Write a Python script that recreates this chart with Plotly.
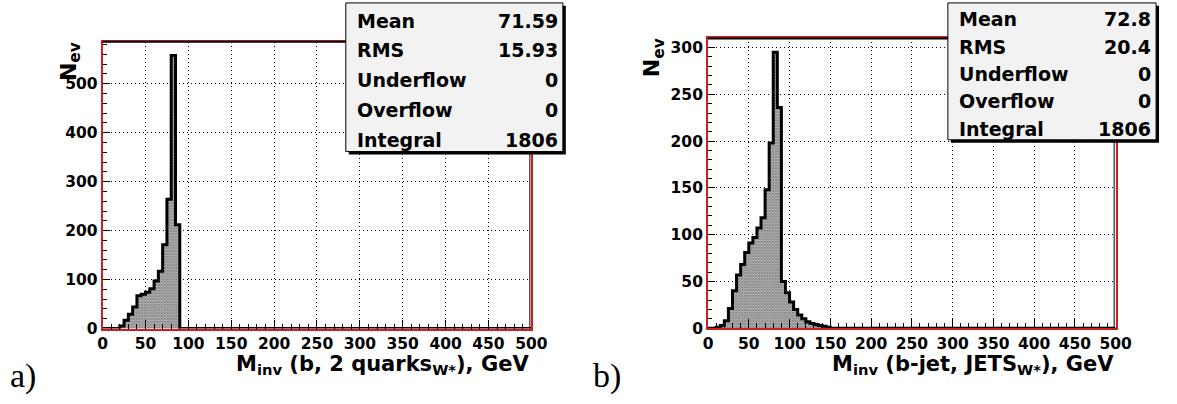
import plotly.graph_objects as go

# ---------------- data ----------------
bin_width = 5
x_min, x_max = 0, 500

# panel a) : M_inv (b, 2 quarks_W*)
a_first_edge = 20
a_counts = [5, 17, 29, 44, 67, 70, 74, 81, 97, 117, 171, 264, 558, 212]

# panel b) : M_inv (b-jet, JETS_W*)
b_first_edge = 10
b_counts = [1, 3, 8, 21, 40, 57, 68, 81, 91, 97, 107, 118, 148, 198, 295, 236,
            50, 38, 28, 20, 14, 10, 7, 5, 4, 3, 2, 1]

stat_names = ["Mean", "RMS", "Underflow", "Overflow", "Integral"]
a_stats = ["71.59", "15.93", "0", "0", "1806"]
b_stats = ["72.8", "20.4", "0", "0", "1806"]

x_ticks = [0, 50, 100, 150, 200, 250, 300, 350, 400, 450, 500]
a_y_ticks = [0, 100, 200, 300, 400, 500]
b_y_ticks = [0, 50, 100, 150, 200, 250, 300]

a_xtitle = "M<sub>inv</sub> (b, 2 quarks<sub>W*</sub>), GeV"
b_xtitle = "M<sub>inv</sub> (b-jet, JETS<sub>W*</sub>), GeV"
ytitle = "N<sub>ev</sub>"
panel_labels = ["a)", "b)"]

# ---------------- layout helpers ----------------
W, H = 1177, 404
def px(x):
    return x / W
def py(y):
    return 1 - y / H

RED = "#cc2020"
FONT = "DejaVu Sans, sans-serif"
tickfont_y = dict(family=FONT, size=15.5, color="black")
tickfont_x = dict(family=FONT, size=15.5, color="black")

def bold(vals):
    return ["<b>%s</b>" % v for v in vals]

fig = go.Figure()
annotations = []
shapes = []

panels = [
    dict(first=a_first_edge, counts=a_counts, yticks=a_y_ticks, yminor=20,
         xl=99.4, xr=535.9, top=42.7, bottom=336.0, xtitle=a_xtitle,
         stats=a_stats, box=(347, 3, 568, 155), label_x=3, ytitle_x=66,
         ax="", lab=panel_labels[0]),
    dict(first=b_first_edge, counts=b_counts, yticks=b_y_ticks, yminor=10,
         xl=715.8, xr=1130.8, top=39.3, bottom=335.7, xtitle=b_xtitle,
         stats=b_stats, box=(960, 3, 1172, 143), label_x=597, ytitle_x=661,
         ax="2", lab=panel_labels[1]),
]

for p in panels:
    n = (x_max - x_min) // bin_width
    full = [0] * n
    start = (p["first"] - x_min) // bin_width
    for i, c in enumerate(p["counts"]):
        full[start + i] = c
    centers = [p["first"] + bin_width * (i + 0.5) for i in range(len(p["counts"]))]
    xref = "x" + p["ax"]
    yref = "y" + p["ax"]
    fig.add_trace(go.Bar(
        x=centers, y=p["counts"], width=bin_width,
        marker=dict(color="white", line=dict(width=0),
                    pattern=dict(shape="x", size=2, solidity=0.8,
                                 fgcolor="black", bgcolor="white")),
        xaxis=xref, yaxis=yref, showlegend=False, hoverinfo="skip"))
    xs = [x_min] + [x_min + i * bin_width for i in range(n)] + [x_max]
    ys = [0] + full + [0]
    fig.add_trace(go.Scatter(
        x=xs, y=ys, mode="lines", line=dict(color="black", width=3, shape="hv"),
        xaxis=xref, yaxis=yref, showlegend=False, hoverinfo="skip"))

    ymax = max(p["counts"]) * 1.05
    xa = dict(domain=[px(p["xl"]), px(p["xr"])], range=[x_min, x_max],
              tickvals=x_ticks, ticktext=bold(x_ticks),
              ticks="inside", ticklen=9, tickcolor="black",
              tickwidth=1, tickfont=tickfont_x,
              showgrid=True, gridcolor="black", gridwidth=1, griddash="1px,3px",
              minor=dict(ticks="inside", ticklen=5, dtick=10, tickcolor="black",
                         showgrid=False),
              showline=True, linecolor=RED, linewidth=2, mirror=True,
              zeroline=False, anchor=yref, fixedrange=True)
    ya = dict(domain=[py(p["bottom"]), py(p["top"])], range=[0, ymax],
              tickvals=p["yticks"], ticktext=bold(p["yticks"]),
              ticks="inside", ticklen=7, tickcolor="black",
              tickwidth=1, tickfont=tickfont_y,
              showgrid=True, gridcolor="black", gridwidth=1, griddash="1px,3px",
              minor=dict(ticks="inside", ticklen=4, dtick=p["yminor"],
                         tickcolor="black", showgrid=False),
              showline=True, linecolor=RED, linewidth=2, mirror=True,
              zeroline=False, anchor=xref, fixedrange=True)
    fig.update_layout(**{"xaxis" + p["ax"]: xa, "yaxis" + p["ax"]: ya})

    # black top frame line
    shapes.append(dict(type="line", xref="paper", yref="paper",
                       x0=px(p["xl"]), x1=px(p["xr"]), y0=py(p["top"]), y1=py(p["top"]),
                       line=dict(color="black", width=2)))
    shapes.append(dict(type="line", xref="paper", yref="paper",
                       x0=px(p["xr"] - 1.5), x1=px(p["xr"] - 1.5),
                       y0=py(p["bottom"]), y1=py(p["top"]),
                       line=dict(color="black", width=1)))

    # stats box
    x0, y0, x1, y1 = p["box"]
    shapes.append(dict(type="rect", xref="paper", yref="paper",
                       x0=px(x0 + 3), x1=px(x1 + 3), y0=py(y1 + 3), y1=py(y0 + 3),
                       fillcolor="black", line=dict(width=0)))
    shapes.append(dict(type="rect", xref="paper", yref="paper",
                       x0=px(x0), x1=px(x1), y0=py(y1), y1=py(y0),
                       fillcolor="#f2f2f2", line=dict(color="black", width=1)))
    rows = len(stat_names)
    rh = (y1 - y0) / rows
    for i, (nm, val) in enumerate(zip(stat_names, p["stats"])):
        yc = y0 + rh * (i + 0.6)
        annotations.append(dict(xref="paper", yref="paper", x=px(x0 + 9), y=py(yc),
                                xanchor="left", yanchor="middle", showarrow=False,
                                text="<b>%s</b>" % nm,
                                font=dict(family=FONT, size=19, color="black")))
        annotations.append(dict(xref="paper", yref="paper", x=px(x1 - 3), y=py(yc),
                                xanchor="right", yanchor="middle", showarrow=False,
                                text="<b>%s</b>" % val,
                                font=dict(family=FONT, size=19, color="black")))

    # axis titles
    annotations.append(dict(xref="paper", yref="paper", x=px(p["xr"]), y=py(358),
                            xanchor="right", yanchor="top", showarrow=False,
                            text="<b>%s</b>" % p["xtitle"],
                            font=dict(family=FONT, size=21, color="black")))
    annotations.append(dict(xref="paper", yref="paper", x=px(p["ytitle_x"]), y=py(p["top"] - 2),
                            xanchor="center", yanchor="top", showarrow=False, textangle=-90,
                            text="<b>%s</b>" % ytitle,
                            font=dict(family=FONT, size=22, color="black")))
    annotations.append(dict(xref="paper", yref="paper", x=px(p["label_x"]), y=py(406),
                            xanchor="left", yanchor="bottom", showarrow=False,
                            text=p["lab"],
                            font=dict(family="Liberation Serif", size=34, color="black")))

fig.update_layout(width=W, height=H, margin=dict(l=0, r=0, t=0, b=0),
                  paper_bgcolor="white", plot_bgcolor="white",
                  bargap=0, showlegend=False,
                  annotations=annotations, shapes=shapes)

fig.write_html("out.html", config={"displayModeBar": False},
               post_script="document.body.style.margin='0';document.body.style.overflow='hidden';")
